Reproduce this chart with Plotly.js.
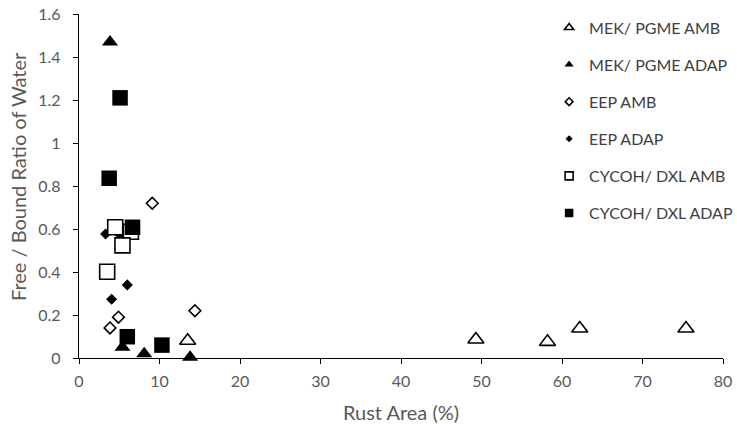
<!DOCTYPE html>
<html>
<head>
<meta charset="utf-8">
<script src="https://cdn.plot.ly/plotly-3.0.1.min.js"></script>
<style>html,body{margin:0;padding:0;background:#fff;}#chart{width:737px;height:427px;}</style>
</head>
<body>
<div id="chart"></div>
<script>
// Data
const seriesNames = ["MEK/ PGME AMB", "MEK/ PGME ADAP", "EEP AMB", "EEP ADAP", "CYCOH/ DXL AMB", "CYCOH/ DXL ADAP"];

const mekAmbX = [13.5, 49.3, 58.2, 62.2, 75.4];
const mekAmbY = [0.08, 0.086, 0.075, 0.137, 0.137];

const mekAdapX = [3.85, 5.4, 8.1, 13.8];
const mekAdapY = [1.47, 0.05, 0.02, 0.003];

const eepAmbX = [9.1, 14.4, 4.9, 3.85];
const eepAmbY = [0.72, 0.22, 0.19, 0.14];

const eepAdapX = [3.3, 5.1, 6.0, 4.05];
const eepAdapY = [0.577, 0.572, 0.34, 0.273];

const cycAmbX = [4.5, 6.45, 5.4, 3.5];
const cycAmbY = [0.608, 0.587, 0.524, 0.401];

const cycAdapX = [5.1, 3.75, 6.65, 6.0, 10.3];
const cycAdapY = [1.21, 0.836, 0.608, 0.099, 0.06];

const xTicks = [0, 10, 20, 30, 40, 50, 60, 70, 80];
const yTicks = [0, 0.2, 0.4, 0.6, 0.8, 1, 1.2, 1.4, 1.6];
const yTickText = ["0", "0.2", "0.4", "0.6", "0.8", "1", "1.2", "1.4", "1.6"];

const styles = [
  {symbol: "triangle-up", color: "#ffffff", lw: 1.6, size: 14, lsize: 8},
  {symbol: "triangle-up", color: "#000000", lw: 0, size: 14, lsize: 8},
  {symbol: "diamond", color: "#ffffff", lw: 1.6, size: 9, lsize: 6},
  {symbol: "diamond", color: "#000000", lw: 0, size: 8.5, lsize: 5.5},
  {symbol: "square", color: "#ffffff", lw: 1.6, size: 15, lsize: 8},
  {symbol: "square", color: "#000000", lw: 0, size: 15.5, lsize: 8.5}
];
const xs = [mekAmbX, mekAdapX, eepAmbX, eepAdapX, cycAmbX, cycAdapX];
const ys = [mekAmbY, mekAdapY, eepAmbY, eepAdapY, cycAmbY, cycAdapY];

const traces = [];
for (let i = 0; i < seriesNames.length; i++) {
  const s = styles[i];
  traces.push({
    type: "scatter", mode: "markers", name: seriesNames[i],
    x: xs[i], y: ys[i], showlegend: false, cliponaxis: false,
    marker: {symbol: s.symbol, size: s.size, color: s.color, line: {color: "#000000", width: s.lw}}
  });
}
// legend entries with the smaller legend markers
for (let i = 0; i < seriesNames.length; i++) {
  const s = styles[i];
  traces.push({
    type: "scatter", mode: "markers", name: seriesNames[i],
    x: [null], y: [null], showlegend: true, legendgroup: "g" + i,
    marker: {symbol: s.symbol, size: s.lsize, color: s.color, line: {color: "#000000", width: s.lw}}
  });
}

const fam = "Lato, 'Open Sans', sans-serif";
const tickFont = {family: fam, size: 16, color: "#595959"};
const titleFont = {family: fam, size: 20, color: "#595959"};

const layout = {
  width: 737, height: 427,
  margin: {l: 79, r: 14, t: 14, b: 69, autoexpand: false},
  paper_bgcolor: "#ffffff", plot_bgcolor: "#ffffff",
  font: tickFont,
  showlegend: true,
  legend: {
    x: 0.73, xanchor: "left", y: 1.01, yanchor: "top",
    traceorder: "grouped", tracegroupgap: 13.3,
    font: {family: fam, size: 16, color: "#404040"},
    bgcolor: "rgba(0,0,0,0)", itemwidth: 30
  },
  xaxis: {
    range: [0, 80], tickvals: xTicks, ticks: "outside", ticklen: 5, tickcolor: "#000",
    showline: true, linecolor: "#000", linewidth: 1.3, showgrid: false, zeroline: false,
    tickfont: tickFont, ticklabelstandoff: 3,
    title: {text: "Rust Area (%)", font: titleFont, standoff: 17}
  },
  yaxis: {
    range: [0, 1.6], tickvals: yTicks, ticktext: yTickText, ticks: "outside", ticklen: 5, tickcolor: "#000",
    showline: true, linecolor: "#000", linewidth: 1.3, showgrid: false, zeroline: false,
    tickfont: tickFont, ticklabelstandoff: 9
  },
  annotations: [{
    text: "Free / Bound Ratio of Water", textangle: -90, font: titleFont,
    xref: "paper", yref: "paper", x: -0.0947, y: 0.526, xanchor: "center", yanchor: "middle",
    showarrow: false
  }]
};

Plotly.newPlot("chart", traces, layout, {displayModeBar: false, staticPlot: true});
</script>
</body>
</html>
